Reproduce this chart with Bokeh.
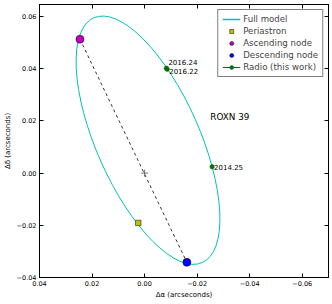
import numpy as np
from bokeh.plotting import figure
from bokeh.models import Range1d, FixedTicker, LinearAxis, Legend, LegendItem, Label, ColumnDataSource
from bokeh.embed import file_html
from bokeh.resources import INLINE
from bokeh.core.properties import value

# ---- data ----
x_ticks = [0.04, 0.02, 0.0, -0.02, -0.04, -0.06]
x_tick_labels = ["0.04", "0.02", "0.00", "\u22120.02", "\u22120.04", "\u22120.06"]
y_ticks = [-0.04, -0.02, 0.0, 0.02, 0.04, 0.06]
y_tick_labels = ["\u22120.04", "\u22120.02", "0.00", "0.02", "0.04", "0.06"]

# apparent orbit (full model) as an ellipse: centre, axes, orientation
model_cx = [-0.0013]
model_cy = [0.0126]
model_major = [0.1019]
model_minor = [0.0396]
model_angle_deg = [-66.1]

peri_x = [0.0024]
peri_y = [-0.0191]
asc_x = [0.0246]
asc_y = [0.0513]
desc_x = [-0.0161]
desc_y = [-0.0342]
primary_x = [0.0]
primary_y = [0.0]

radio_epoch = ["2016.24", "2016.22", "2014.25"]
radio_x = [-0.0083, -0.0086, -0.0257]
radio_y = [0.0402, 0.0398, 0.0024]
radio_xerr = [0.0003, 0.0003, 0.0003]
radio_yerr = [0.0003, 0.0003, 0.0003]

FONT = "DejaVu Sans"
CYAN = "#00BFBF"

p = figure(width=330, height=301,
           x_range=Range1d(0.04, -0.07), y_range=Range1d(-0.04, 0.0646),
           output_backend="svg", toolbar_location=None,
           min_border_left=39, min_border_right=2, min_border_top=4, min_border_bottom=21)
p.grid.visible = False
p.outline_line_color = "black"
p.outline_line_width = 1
p.background_fill_color = "white"
p.border_fill_color = "white"

def style_axis(ax, ticks, labels, show_labels=True):
    ax.ticker = FixedTicker(ticks=ticks)
    ax.major_tick_in = 4
    ax.major_tick_out = 0
    ax.minor_tick_in = 0
    ax.minor_tick_out = 0
    ax.axis_line_color = "black"
    ax.major_tick_line_color = "black"
    ax.major_label_text_font = FONT
    ax.major_label_text_color = "black"
    ax.major_label_text_font_size = "6.5px"
    ax.axis_label_text_font = FONT
    ax.axis_label_text_font_style = "normal"
    ax.axis_label_text_color = "black"
    ax.axis_label_text_font_size = "7px"
    if show_labels:
        ax.major_label_overrides = {t: l for t, l in zip(ticks, labels)}
        ax.major_label_standoff = 3
        ax.axis_label_standoff = 2
    else:
        ax.major_label_overrides = {t: "" for t in ticks}
        ax.major_label_standoff = 0
        ax.axis_label_standoff = 0

style_axis(p.xaxis[0], x_ticks, x_tick_labels)
style_axis(p.yaxis[0], y_ticks, y_tick_labels)
p.xaxis[0].axis_label = "\u0394\u03b1 (arcseconds)"
p.yaxis[0].axis_label = "\u0394\u03b4 (arcseconds)"

top = LinearAxis()
style_axis(top, x_ticks, x_tick_labels, show_labels=False)
p.add_layout(top, "above")
right = LinearAxis()
style_axis(right, y_ticks, y_tick_labels, show_labels=False)
p.add_layout(right, "right")

# full model orbit
p.ellipse(x=model_cx, y=model_cy, width=model_major, height=model_minor,
          angle=model_angle_deg, angle_units="deg",
          fill_color=None, line_color=CYAN, line_width=1)
model_leg = p.line(x=model_cx, y=model_cy, line_color=CYAN, line_width=1.3)

# line of nodes
p.line(x=asc_x + desc_x, y=asc_y + desc_y, line_color="black",
       line_width=0.8, line_dash="3 3")

# primary position
p.scatter(x=primary_x, y=primary_y, marker="cross", size=7,
          line_color="#555555", line_width=0.8)

peri = p.scatter(x=peri_x, y=peri_y, marker="square", size=5.5,
                 fill_color="#BFBF00", line_color="black", line_width=0.5)
asc = p.scatter(x=asc_x, y=asc_y, marker="circle", size=8,
                fill_color="#BF00BF", line_color="black", line_width=0.5)
desc = p.scatter(x=desc_x, y=desc_y, marker="circle", size=8,
                 fill_color="#0000FF", line_color="black", line_width=0.5)

rx = np.array(radio_x); ry = np.array(radio_y)
rxe = np.array(radio_xerr); rye = np.array(radio_yerr)
GREEN = "#007000"
eh = p.segment(x0=rx - rxe, y0=ry, x1=rx + rxe, y1=ry, line_color=GREEN, line_width=1)
ev = p.segment(x0=rx, y0=ry - rye, x1=rx, y1=ry + rye, line_color=GREEN, line_width=1)
rad = p.scatter(x=radio_x, y=radio_y, marker="circle", size=4.5,
                fill_color=GREEN, line_color=GREEN, line_width=0.5)

lab_src = ColumnDataSource(dict(x=radio_x, y=radio_y, t=radio_epoch, dy=[-6, 2, 0]))
p.text(x="x", y="y", text="t", source=lab_src, x_offset=2, y_offset="dy",
       text_font=value(FONT), text_font_size=value("7px"),
       text_baseline="middle", text_align="left", text_color="black")

p.add_layout(Label(x=-0.025, y=0.0214, text="ROXN 39", text_font=FONT,
                   text_font_size="8.8px", text_baseline="middle", text_align="left",
                   text_color="black"))

legend = Legend(items=[
    LegendItem(label="Full model", renderers=[model_leg]),
    LegendItem(label="Periastron", renderers=[peri]),
    LegendItem(label="Ascending node", renderers=[asc]),
    LegendItem(label="Descending node", renderers=[desc]),
    LegendItem(label="Radio (this work)", renderers=[eh, rad]),
], location="top_right", border_line_color="black", border_line_width=1,
   background_fill_color="white", background_fill_alpha=1,
   label_text_font=FONT, label_text_font_size="8.6px",
   glyph_width=18, glyph_height=10, label_height=10, spacing=2,
   padding=4, margin=5, label_standoff=3)
p.add_layout(legend)

open("out.html", "w").write(file_html(p, INLINE))
